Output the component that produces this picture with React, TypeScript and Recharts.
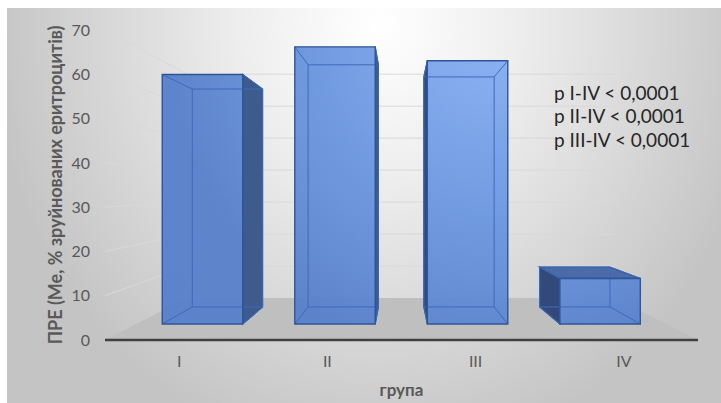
import { BarChart, Bar, XAxis, YAxis, CartesianGrid } from "recharts"

const groups = ["I", "II", "III", "IV"]
const medians = [63, 70, 66.5, 11.5]
const yTicks = [0, 10, 20, 30, 40, 50, 60, 70]
const pNotes = ["p I-IV < 0,0001", "p II-IV < 0,0001", "p III-IV < 0,0001"]

const data = groups.map((g, i) => ({ group: g, value: medians[i] }))

const FONT = "Lato, 'Open Sans', sans-serif"

// simple perspective: everything shrinks toward one vanishing point
const VX = 400
const VY = 189
const WALL = 0.722 // back wall depth
const FRONT = 0.894 // bar front face depth
const BACK = 0.781 // bar back face depth

type Pt = [number, number]
const proj = (x: number, y: number, s: number): Pt => [VX + (x - VX) * s, VY + (y - VY) * s]
const pts = (...ps: Pt[]) => ps.map((p) => p.join(",")).join(" ")

// gridline: slanted on the left side wall, then flat along the back wall
function WallLine(props: any) {
  const { x1, x2, y1, index } = props
  const [bx1, by] = proj(x1, y1, WALL)
  const [bx2] = proj(x2, y1, WALL)
  if (index === 0) {
    // zero line -> grey floor
    return (
      <polygon
        key={`floor-${index}`}
        points={pts([x1, y1], [x2, y1], [bx2, by], [bx1, by])}
        fill="#bfbfbf"
      />
    )
  }
  return (
    <path
      key={`grid-${index}`}
      d={`M${x1},${y1}L${bx1},${by}L${bx2},${by}`}
      fill="none"
      stroke="#d9d9d9"
      strokeWidth={1}
    />
  )
}

function Box3D(props: any) {
  const { x, y, width, height } = props
  const x0 = x
  const x1 = x + width
  const yt = y
  const yb = y + height

  const fTL = proj(x0, yt, FRONT)
  const fTR = proj(x1, yt, FRONT)
  const fBL = proj(x0, yb, FRONT)
  const fBR = proj(x1, yb, FRONT)
  const bTL = proj(x0, yt, BACK)
  const bTR = proj(x1, yt, BACK)
  const bBL = proj(x0, yb, BACK)
  const bBR = proj(x1, yb, BACK)

  const edge = "#2f5597"
  const inner = "#3d6ab9"

  return (
    <g>
      {x1 < VX && (
        <polygon points={pts(fTR, bTR, bBR, fBR)} fill="#3e5b8e" stroke={edge} strokeWidth={1.2} />
      )}
      {x0 > VX && (
        <polygon points={pts(fTL, bTL, bBL, fBL)} fill="#33497a" stroke={edge} strokeWidth={1.2} />
      )}
      {yt > VY && (
        <polygon points={pts(fTL, fTR, bTR, bTL)} fill="#4a6aa8" stroke={edge} strokeWidth={1.2} />
      )}
      <polygon points={pts(fTL, fTR, fBR, fBL)} fill="url(#barFace)" fillOpacity={0.95} />
      {/* hidden edges seen through the glassy front */}
      <polygon points={pts(bTL, bTR, bBR, bBL)} fill="none" stroke={inner} strokeWidth={1} />
      <path
        d={`M${fTL}L${bTL}M${fTR}L${bTR}M${fBL}L${bBL}M${fBR}L${bBR}`}
        fill="none"
        stroke={inner}
        strokeWidth={1}
      />
      <polygon points={pts(fTL, fTR, fBR, fBL)} fill="none" stroke={edge} strokeWidth={1.4} />
    </g>
  )
}

export default function App() {
  return (
    <div style={{ position: "relative", width: 721, height: 403, fontFamily: FONT }}>
      <style>{"body{margin:0}"}</style>
      <div
        style={{
          position: "absolute",
          left: 7,
          top: 8,
          width: 714,
          height: 395,
          background:
            "radial-gradient(ellipse 390px 440px at 52% 4%, #ffffff 0%, #eeeeee 35%, #c4c4c4 100%)",
        }}
      />
      <div style={{ position: "absolute", left: 0, top: 0 }}>
        <BarChart
          width={721}
          height={403}
          data={data}
          margin={{ top: 30, right: 23, bottom: 0, left: 0 }}
          barCategoryGap="19.6%"
        >
          <defs>
            <radialGradient id="barFace" gradientUnits="userSpaceOnUse" cx={500} cy={40} r={330}>
              <stop offset="0%" stopColor="#86aff3" />
              <stop offset="55%" stopColor="#6a96e0" />
              <stop offset="100%" stopColor="#5780cb" />
            </radialGradient>
          </defs>
          <CartesianGrid horizontal={WallLine} vertical={false} />
          <XAxis
            dataKey="group"
            height={63}
            tickSize={0}
            tickMargin={16}
            axisLine={{ stroke: "#404040", strokeWidth: 2.5 }}
            tick={{ fill: "#595959", fontSize: 16, fontFamily: FONT }}
            label={{
              value: "група",
              position: "insideBottom",
              offset: 7,
              style: { fill: "#595959", fontSize: 17, fontWeight: 700, fontFamily: FONT },
            }}
          />
          <YAxis
            width={105}
            domain={[0, 70]}
            ticks={yTicks}
            axisLine={false}
            tickLine={false}
            tickSize={0}
            tickMargin={15}
            tick={{ fill: "#595959", fontSize: 16, fontFamily: FONT }}
            label={{
              value: "ПРЕ (Ме, % зруйнованих еритроцитів)",
              angle: -90,
              position: "center",
              dx: 3,
              style: { fill: "#595959", fontSize: 18, fontWeight: 700, fontFamily: FONT },
            }}
          />
          <Bar dataKey="value" shape={Box3D} isAnimationActive={false} />
        </BarChart>
      </div>
      <div
        style={{
          position: "absolute",
          left: 554,
          top: 80.5,
          fontSize: 19,
          lineHeight: "23.5px",
          color: "#262626",
          whiteSpace: "nowrap",
        }}
      >
        {pNotes.map((t) => (
          <div key={t}>{t}</div>
        ))}
      </div>
    </div>
  )
}
